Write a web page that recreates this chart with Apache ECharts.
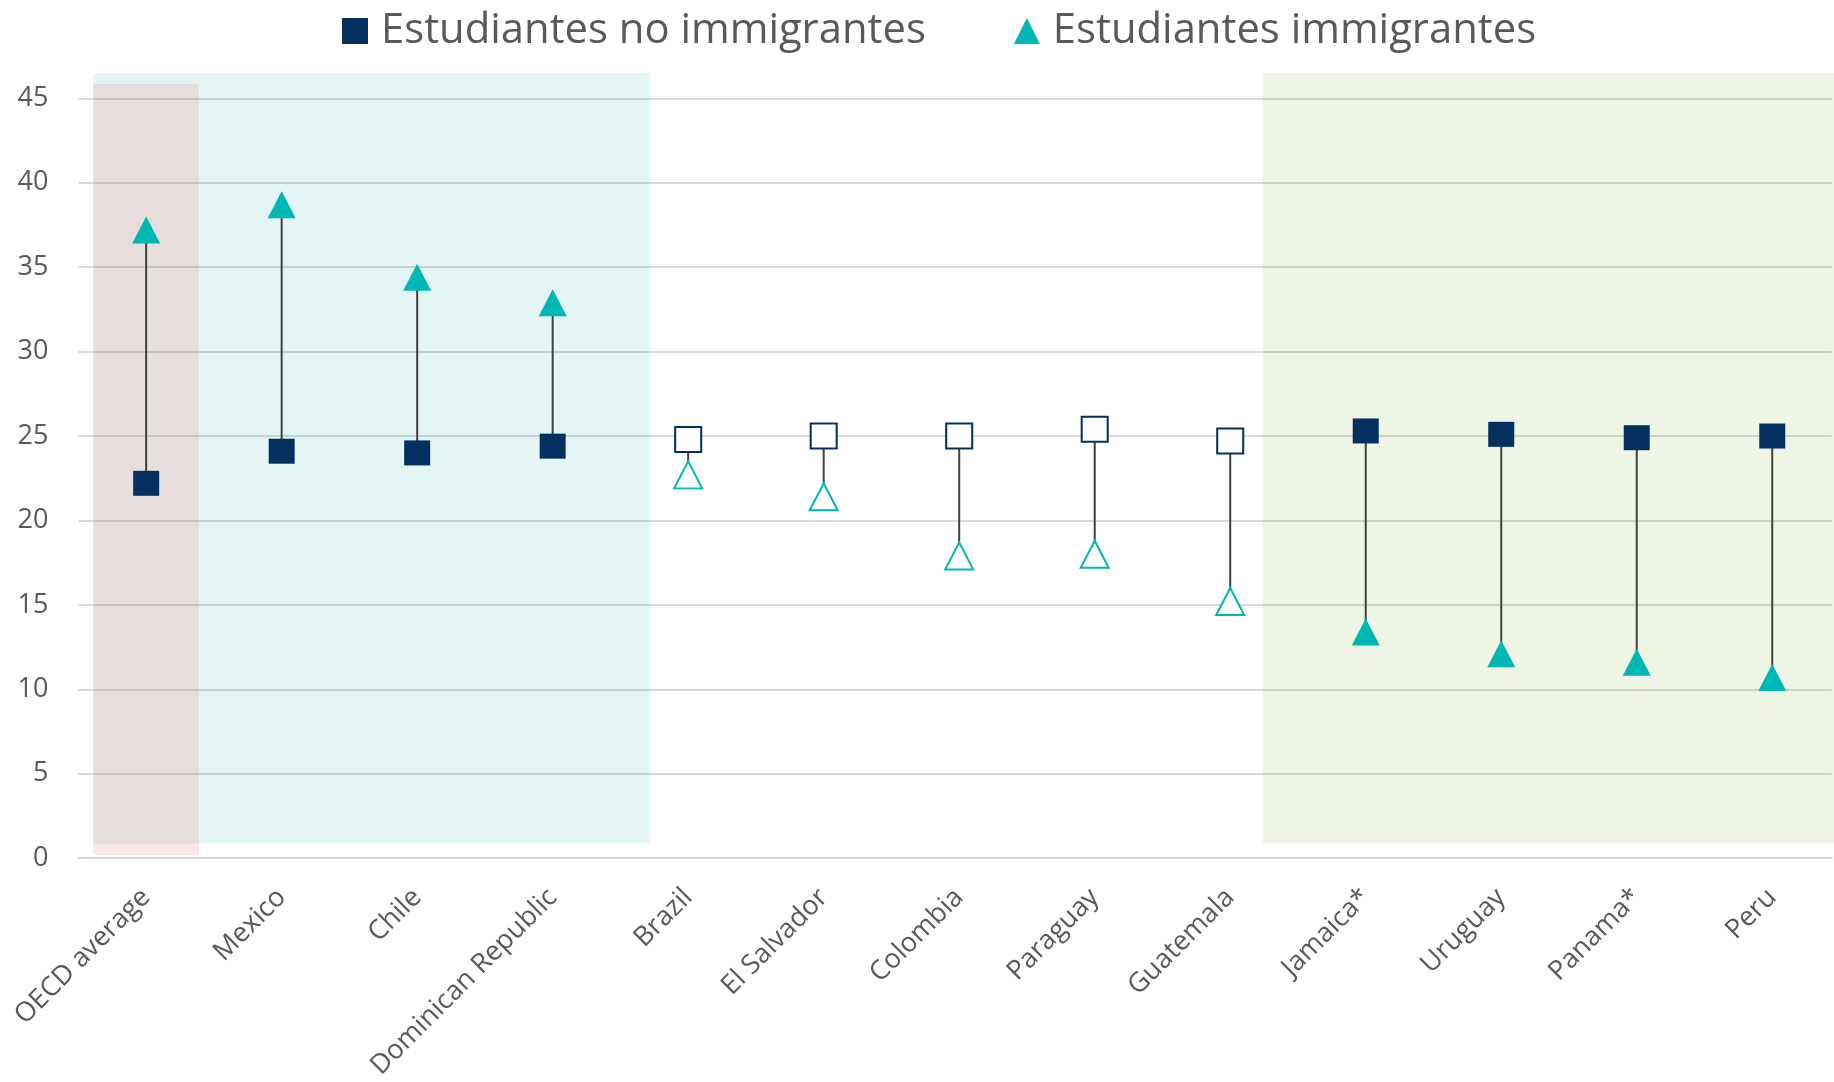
<!DOCTYPE html>
<html>
<head>
<meta charset="utf-8">
<script src="https://cdn.jsdelivr.net/npm/echarts@6/dist/echarts.min.js"></script>
<style>
html,body{margin:0;padding:0;background:#fff;}
#chart{width:1834px;height:1082px;}
</style>
</head>
<body>
<div id="chart"></div>
<script>
const categories = ['OECD average','Mexico','Chile','Dominican Republic','Brazil','El Salvador','Colombia','Paraguay','Guatemala','Jamaica*','Uruguay','Panama*','Peru'];
const nonImmigrant = [22.2, 24.1, 24.0, 24.4, 24.8, 25.0, 25.0, 25.4, 24.7, 25.3, 25.1, 24.9, 25.0];
const immigrant = [37.2, 38.7, 34.4, 32.9, 22.7, 21.4, 17.9, 18.0, 15.2, 13.4, 12.1, 11.6, 10.7];
// whether the gap is shown with filled markers (true) or hollow markers (false)
const gapSignificant = [true, true, true, true, false, false, false, false, false, true, true, true, true];
const yTicks = [0, 5, 10, 15, 20, 25, 30, 35, 40, 45];
const seriesNames = ['Estudiantes no immigrantes', 'Estudiantes immigrantes'];

const NAVY = '#03305f';
const TEAL = '#00b8b3';
const FONT = 'Open Sans';
const TXT = '#595959';

const chart = echarts.init(document.getElementById('chart'), null, {renderer: 'canvas'});

const gridLeft = 78.4, gridBottom = 223.3, gridTop = 98.3;
const xMin = -0.5, xMax = 12.44;   // category slots extend past the right edge
const yMax = yTicks[yTicks.length - 1];
const pxPerUnit = (1082 - gridBottom - gridTop) / yMax;
const bandTopVal = 46.5;
const grid2Top = 1082 - gridBottom - bandTopVal * pxPerUnit;

function pointStyle(filled, color) {
  return filled ? {color: color} : {color: '#ffffff', borderColor: color, borderWidth: 2};
}

const option = {
  animation: false,
  backgroundColor: '#ffffff',
  textStyle: {fontFamily: FONT},
  legend: {
    data: seriesNames,
    left: 337,
    top: 5,
    itemGap: 88,
    itemWidth: 26,
    itemHeight: 26,
    textStyle: {fontSize: 41.8, color: TXT, fontFamily: FONT, padding: [0, 0, 0, 8]}
  },
  grid: [
    {left: gridLeft, right: 0, top: gridTop, bottom: gridBottom, containLabel: false},
    {left: gridLeft, right: 0, top: grid2Top, bottom: gridBottom, containLabel: false}
  ],
  xAxis: [
    {
      type: 'value', gridIndex: 0, min: xMin, max: xMax, interval: 0.5,
      splitLine: {show: false},
      axisLine: {show: true, onZero: false, lineStyle: {color: '#d9d9d9', width: 2}},
      axisTick: {show: false},
      axisLabel: {
        showMinLabel: true, showMaxLabel: true, hideOverlap: false,
        rotate: 45, fontSize: 27, color: TXT, fontFamily: FONT, margin: 35,
        formatter: function (v) {
          const k = Math.round(v);
          return (Math.abs(v - k) < 1e-6 && categories[k] !== undefined) ? categories[k] : '';
        }
      }
    },
    {type: 'value', gridIndex: 1, min: xMin, max: xMax, show: false}
  ],
  yAxis: [
    {
      type: 'value', gridIndex: 0, min: yTicks[0], max: yMax, interval: yTicks[1] - yTicks[0],
      axisLine: {show: false}, axisTick: {show: false},
      axisLabel: {fontSize: 27, color: TXT, fontFamily: FONT, margin: 30},
      splitLine: {show: true, lineStyle: {color: '#d9d9d9', width: 2}}
    },
    {type: 'value', gridIndex: 1, min: 0, max: bandTopVal, show: false}
  ],
  series: [
    {
      type: 'custom',
      name: 'gap',
      xAxisIndex: 0, yAxisIndex: 0,
      z: 1,
      silent: true,
      data: categories.map((c, i) => [i, nonImmigrant[i], immigrant[i]]),
      encode: {x: 0, y: [1, 2]},
      renderItem: function (params, api) {
        const i = api.value(0);
        const p1 = api.coord([i, api.value(1)]);
        const p2 = api.coord([i, api.value(2)]);
        return {
          type: 'line',
          shape: {x1: p1[0], y1: p1[1], x2: p2[0], y2: p2[1]},
          style: {stroke: '#404040', lineWidth: 2}
        };
      }
    },
    {
      type: 'scatter',
      name: seriesNames[0],
      xAxisIndex: 0, yAxisIndex: 0,
      z: 3,
      symbol: 'rect',
      symbolSize: [26, 25],
      itemStyle: {color: NAVY, opacity: 1},
      data: nonImmigrant.map((v, i) => ({value: [i, v], itemStyle: pointStyle(gapSignificant[i], NAVY)}))
    },
    {
      type: 'scatter',
      name: seriesNames[1],
      xAxisIndex: 0, yAxisIndex: 0,
      z: 3,
      symbol: 'triangle',
      symbolSize: [28, 27],
      itemStyle: {color: TEAL, opacity: 1},
      data: immigrant.map((v, i) => ({value: [i, v], itemStyle: pointStyle(gapSignificant[i], TEAL)}))
    },
    {
      type: 'scatter',
      name: 'bands',
      xAxisIndex: 1, yAxisIndex: 1,
      z: 10,
      silent: true,
      data: [],
      markArea: {
        silent: true,
        label: {show: false},
        data: [
          [{xAxis: -0.39, yAxis: 0.9, itemStyle: {color: 'rgba(22,172,172,0.12)'}}, {xAxis: 3.715, yAxis: 46.5}],
          [{xAxis: -0.39, yAxis: 0.22, itemStyle: {color: 'rgba(244,116,116,0.18)'}}, {xAxis: 0.39, yAxis: 45.85}],
          [{xAxis: 8.23, yAxis: 0.9, itemStyle: {color: 'rgba(113,172,38,0.12)'}}, {xAxis: 12.44, yAxis: 46.5}]
        ]
      }
    }
  ]
};
chart.setOption(option);
</script>
</body>
</html>
